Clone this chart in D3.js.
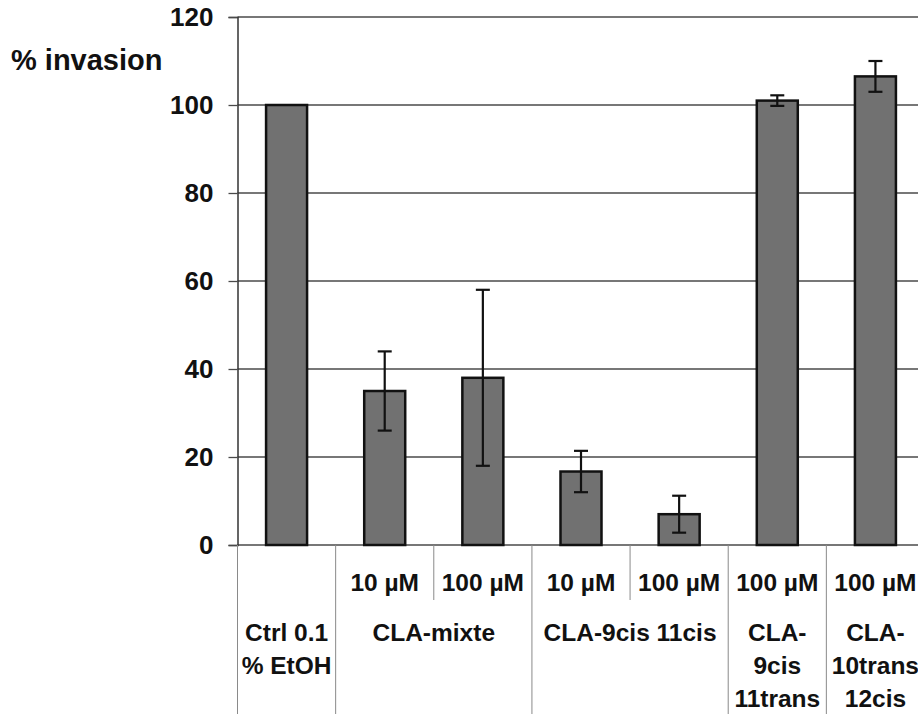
<!DOCTYPE html>
<html>
<head>
<meta charset="utf-8">
<script src="https://cdn.jsdelivr.net/npm/d3@7"></script>
<style>
  body { margin: 0; background: #fff; }
  svg { display: block; font-family: Arial, "Liberation Sans", sans-serif; font-weight: bold; }
  .grid line { stroke: #4a4a4a; stroke-width: 1.3; }
  .axis--y .domain { stroke: #333; stroke-width: 1.5; }
  .axis--y .tick line { stroke: #4a4a4a; stroke-width: 1.3; }
  .axis--y text { font-size: 26px; fill: #111; font-weight: bold; }
  .bar { fill: #717171; stroke: #111; stroke-width: 2.5; }
  .err { stroke: #111; stroke-width: 2.2; }
  .tbl { stroke: #8a8a8a; stroke-width: 1; }
  .cell { font-size: 24.5px; fill: #111; text-anchor: middle; }
</style>
</head>
<body>
<div id="chart"></div>
<script>
// data
var categories = ['Ctrl', 'mixte10', 'mixte100', 'cc10', 'cc100', 'ct100', 'tc100'];
var values = [100, 35, 38, 16.7, 7, 101, 106.5];
var errors = [0, 9, 20, 4.7, 4.2, 1.2, 3.5];
var yTicks = [0, 20, 40, 60, 80, 100, 120];

// table below the axis
var doseLabels = ['', '10 µM', '100 µM', '10 µM', '100 µM', '100 µM', '100 µM'];
var groupLabels = [
  {from: 0, to: 0, lines: ['Ctrl 0.1', '% EtOH']},
  {from: 1, to: 2, lines: ['CLA-mixte']},
  {from: 3, to: 4, lines: ['CLA-9cis 11cis']},
  {from: 5, to: 5, lines: ['CLA-', '9cis', '11trans']},
  {from: 6, to: 6, lines: ['CLA-', '10trans', '12cis']}
];

var width = 918, height = 714;
var margin = {top: 17, left: 237.5},
  plotW = 687,
  plotH = 528;

var svg = d3.select("#chart").append("svg")
  .attr("width", width)
  .attr("height", height);

var g = svg.append("g")
  .attr("transform", "translate(" + margin.left + "," + margin.top + ")");

var x = d3.scaleBand()
  .domain(categories)
  .range([0, plotW])
  .paddingInner(0)
  .paddingOuter(0);

var y = d3.scaleLinear()
  .domain([0, 120])
  .range([plotH, 0]);

// gridlines
g.append("g")
  .attr("class", "grid")
  .selectAll("line")
  .data(yTicks)
  .enter().append("line")
  .attr("x1", 0)
  .attr("x2", plotW)
  .attr("y1", function(d) { return y(d); })
  .attr("y2", function(d) { return y(d); });

// axis-y
g.append("g")
  .attr("class", "axis axis--y")
  .call(d3.axisLeft(y).tickValues(yTicks).tickSizeOuter(0).tickSize(9).tickPadding(15));

svg.append("text")
  .attr("x", 11)
  .attr("y", 70)
  .attr("font-size", "29px")
  .attr("fill", "#111")
  .text("% invasion");

// bars
var bw = 41;
g.selectAll(".bar")
  .data(values)
  .enter().append("rect")
  .attr("class", "bar")
  .attr("x", function(d, i) { return x(categories[i]) + x.bandwidth() / 2 - bw / 2; })
  .attr("y", function(d) { return y(d); })
  .attr("width", bw)
  .attr("height", function(d) { return plotH - y(d); });

// error bars
var cap = 7;
values.forEach(function(v, i) {
  if (!errors[i]) return;
  var cx = x(categories[i]) + x.bandwidth() / 2;
  var eg = g.append("g").attr("class", "err");
  eg.append("line").attr("x1", cx).attr("x2", cx)
    .attr("y1", y(v + errors[i])).attr("y2", y(v - errors[i]));
  eg.append("line").attr("x1", cx - cap).attr("x2", cx + cap)
    .attr("y1", y(v + errors[i])).attr("y2", y(v + errors[i]));
  eg.append("line").attr("x1", cx - cap).attr("x2", cx + cap)
    .attr("y1", y(v - errors[i])).attr("y2", y(v - errors[i]));
});

// table lines
var tbl = g.append("g");
var tableBottom = height - margin.top;
var fullEdges = [0];
groupLabels.forEach(function(gr) {
  fullEdges.push(x(categories[gr.to]) + x.bandwidth());
});
tbl.selectAll("line.full")
  .data(fullEdges)
  .enter().append("line")
  .attr("class", "tbl")
  .attr("x1", function(d) { return d; })
  .attr("x2", function(d) { return d; })
  .attr("y1", plotH)
  .attr("y2", tableBottom);

// short lines between doses of the same group
var shortEdges = [];
groupLabels.forEach(function(gr) {
  for (var k = gr.from + 1; k <= gr.to; k++) shortEdges.push(x(categories[k]));
});
tbl.selectAll("line.short")
  .data(shortEdges)
  .enter().append("line")
  .attr("class", "tbl")
  .attr("x1", function(d) { return d; })
  .attr("x2", function(d) { return d; })
  .attr("y1", plotH)
  .attr("y2", plotH + 55);

// dose row
g.selectAll(".dose")
  .data(doseLabels)
  .enter().append("text")
  .attr("class", "cell")
  .attr("x", function(d, i) { return x(categories[i]) + x.bandwidth() / 2; })
  .attr("y", plotH + 46)
  .text(function(d) { return d; });

// group row
groupLabels.forEach(function(gr) {
  var cx = (x(categories[gr.from]) + x(categories[gr.to]) + x.bandwidth()) / 2;
  gr.lines.forEach(function(t, j) {
    g.append("text")
      .attr("class", "cell")
      .attr("x", cx)
      .attr("y", plotH + 96 + j * 33)
      .text(t);
  });
});
</script>
</body>
</html>
